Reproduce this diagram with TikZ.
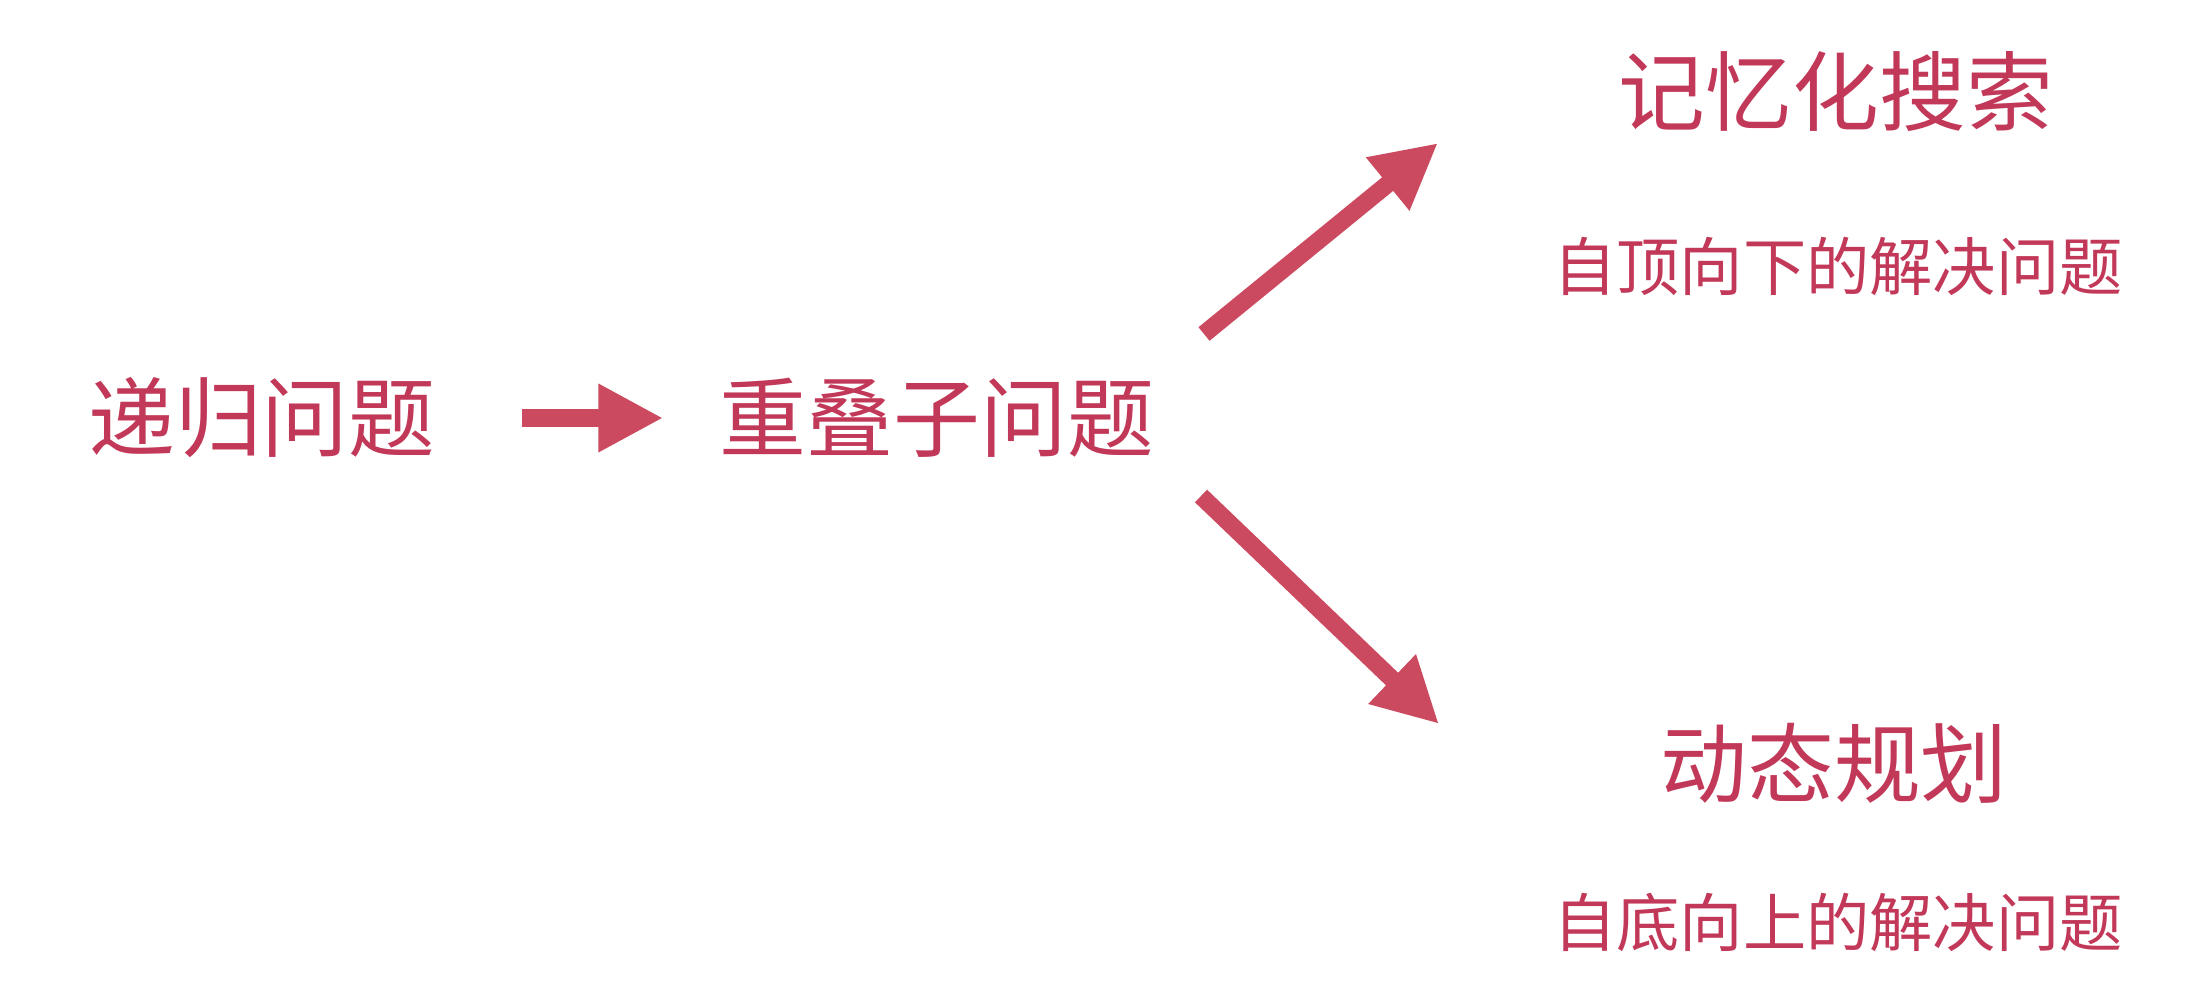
\documentclass[tikz,border=0pt]{standalone}
\usepackage{fontspec}
\setmainfont{Noto Sans CJK SC}
\usetikzlibrary{arrows.meta}
\definecolor{rosered}{RGB}{204,74,96}
\definecolor{rosetext}{RGB}{194,56,88}
\begin{document}
\begin{tikzpicture}[x=1cm,y=1cm,
  title/.style={text=rosetext, font=\fontsize{24.7}{28}\selectfont, inner sep=0pt},
  sub/.style={text=rosetext, font=\fontsize{18}{22}\selectfont, inner sep=0pt},
  arr/.style={draw=rosered, line width=0.175cm, -{Triangle[length=0.65cm,width=0.64cm]}}]
\useasboundingbox (0,0) rectangle (21.9,9.98);
\node[title] (a) at (2.62,5.80) {递归问题};
\node[title] (b) at (9.37,5.80) {重叠子问题};
\node[title] (c) at (18.36,9.06) {记忆化搜索};
\node[sub] (c2) at (18.38,7.32) {自顶向下的解决问题};
\node[title] (d) at (18.34,2.35) {动态规划};
\node[sub] (d2) at (18.38,0.76) {自底向上的解决问题};
\coordinate (u0) at (12.04,6.64);
\coordinate (u1) at (14.38,8.55);
\coordinate (l0) at (12.01,5.02);
\coordinate (l1) at (14.39,2.74);
\draw[arr, shorten <=0.86cm, shorten >=0.56cm] (a.east) -- (b.west);
\draw[arr] (u0) -- (u1);
\draw[arr] (l0) -- (l1);
\end{tikzpicture}
\end{document}
